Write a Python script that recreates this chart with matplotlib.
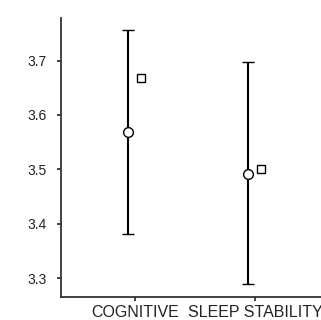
import matplotlib
matplotlib.use("Agg")
import matplotlib.pyplot as plt

plt.rcParams['font.family'] = ['Liberation Sans', 'DejaVu Sans']

categories = ["COGNITIVE", "SLEEP STABILITY"]
means = [3.568, 3.492]
upper = [3.756, 3.697]
lower = [3.381, 3.290]
other = [3.668, 3.501]

fig = plt.figure(figsize=(3.21, 3.20), dpi=100)
ax = fig.add_axes([61/321, (320-297)/320, (321-61)/321, (297-18)/320])

xs = list(range(len(categories)))
for i in xs:
    ax.errorbar(i - 0.0625, means[i],
                yerr=[[means[i] - lower[i]], [upper[i] - means[i]]],
                fmt='o', color='black', mfc='white', mec='black', ms=7,
                elinewidth=1.5, capsize=4, capthick=1.5, mew=1)
ax.plot([x + 0.05 for x in xs], other, 's', mfc='white', mec='black', ms=5.5, mew=1, linestyle='none')

ax.set_xlim(-0.617, 1.55)
ax.set_ylim(3.266, 3.778)
ax.set_yticks([3.3, 3.4, 3.5, 3.6, 3.7])
ax.set_yticklabels(["3.3", "3.4", "3.5", "3.6", "3.7"])
ax.set_xticks(xs)
ax.set_xticklabels(categories)

for s in ['top', 'right']:
    ax.spines[s].set_visible(False)
for s in ['left', 'bottom']:
    ax.spines[s].set_linewidth(1.3)
    ax.spines[s].set_color('#333333')

ax.tick_params(axis='both', length=3, width=1.3, color='#333333', labelcolor='#222222')
ax.tick_params(axis='y', labelsize=10, pad=7)
ax.tick_params(axis='x', labelsize=11.5, pad=3)

fig.savefig("out.png", dpi=100)
